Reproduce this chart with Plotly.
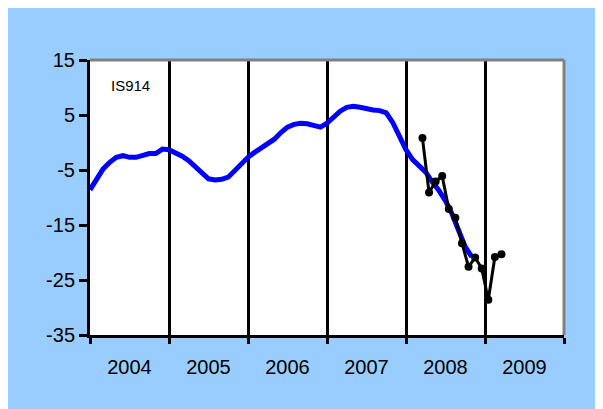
import plotly.graph_objects as go

# ---- data ----
years = [2004, 2005, 2006, 2007, 2008, 2009]
year_labels = ["2004", "2005", "2006", "2007", "2008", "2009"]

# monthly index series (blue), starting Jan 2004
blue_start = 2004.0
blue_values = [
    -8.6, -6.8, -4.8, -3.6, -2.7, -2.4, -2.7, -2.7, -2.4, -2.0, -2.0, -1.2,   # 2004
    -1.3, -1.8, -2.5, -3.3, -4.4, -5.6, -6.6, -6.8, -6.7, -6.3, -5.1, -3.8,   # 2005
    -2.7, -1.8, -1.0, -0.3, 0.6, 1.8, 2.8, 3.3, 3.5, 3.4, 3.0, 2.8,           # 2006
    3.5, 4.7, 5.7, 6.4, 6.6, 6.4, 6.1, 5.9, 5.8, 5.4, 3.6, 1.0,               # 2007
    -1.3, -3.1, -4.2, -5.4, -7.2, -8.7, -10.6, -13.0, -16.0, -19.0, -20.8,    # 2008
]

# monthly survey series (black), starting mid-March 2008
black_start = 2008 + 2.5 / 12
black_values = [0.8, -9.1, -7.1, -6.1, -12.1, -13.7, -18.3, -22.6, -20.9,
                -22.9, -28.6, -20.8, -20.3]

y_ticks = [15, 5, -5, -15, -25, -35]
y_tick_labels = ["15", "5", "-5", "-15", "-25", "-35"]
label_text = "IS914"

# ---- layout constants ----
W, H = 603, 409
ML, MT = 82, 52
PW, PH = 474, 275
MR, MB = W - ML - PW, H - MT - PH
FONT = "Liberation Sans, Arial, sans-serif"
TICK_FONT = dict(family=FONT, size=20, color="#000000")

blue_x = [blue_start + i / 12 for i in range(len(blue_values))]
black_x = [black_start + i / 12 for i in range(len(black_values))]

fig = go.Figure()
fig.add_trace(go.Scatter(x=blue_x, y=blue_values, mode="lines",
                         line=dict(color="#0000FF", width=5),
                         showlegend=False, hoverinfo="skip"))
fig.add_trace(go.Scatter(x=black_x, y=black_values, mode="lines+markers",
                         line=dict(color="#000000", width=3),
                         marker=dict(color="#000000", size=8),
                         showlegend=False, hoverinfo="skip"))

fig.add_annotation(x=years[0] + 0.24, y=10.3, text=label_text, showarrow=False,
                   xanchor="left", yanchor="middle",
                   font=dict(family=FONT, size=15, color="#000000"))

shapes = [
    # grey top and right frame
    dict(type="line", xref="paper", yref="paper", x0=0, x1=1, y0=1, y1=1,
         line=dict(color="#808080", width=3), layer="above"),
    dict(type="line", xref="paper", yref="paper", x0=1, x1=1, y0=0, y1=1,
         line=dict(color="#808080", width=3), layer="above"),
]

fig.update_layout(
    width=W, height=H,
    margin=dict(l=ML, r=MR, t=MT, b=MB, pad=0),
    paper_bgcolor="#99CCFF",
    plot_bgcolor="#FFFFFF",
    shapes=shapes,
    font=TICK_FONT,
    xaxis=dict(
        range=[years[0], years[-1] + 1],
        tickmode="array",
        tickvals=[y + 0.5 for y in years],
        ticktext=year_labels,
        ticks="outside", ticklen=12, tickcolor="rgba(0,0,0,0)",
        showgrid=False, zeroline=False,
        showline=True, linecolor="#000000", linewidth=3,
        minor=dict(tickmode="array", tickvals=years + [years[-1] + 1],
                   ticks="outside", ticklen=6, tickwidth=3, tickcolor="#000000",
                   showgrid=True, gridcolor="#000000", gridwidth=3),
        tickfont=TICK_FONT,
        fixedrange=True,
    ),
    yaxis=dict(
        range=[y_ticks[-1], y_ticks[0]],
        tickmode="array", tickvals=y_ticks, ticktext=y_tick_labels,
        ticks="outside", ticklen=8, tickwidth=3, tickcolor="#000000",
        showgrid=False, zeroline=False,
        showline=True, linecolor="#000000", linewidth=3,
        tickfont=TICK_FONT,
        fixedrange=True,
    ),
)

fig.write_html("out.html")
